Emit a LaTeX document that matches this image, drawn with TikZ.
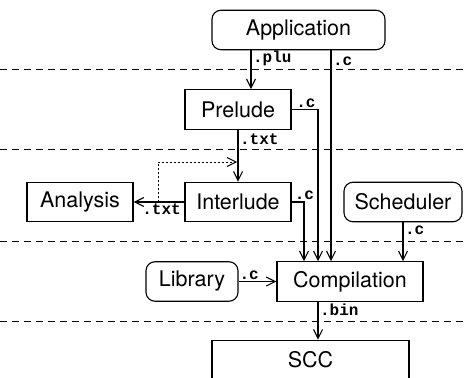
\documentclass[tikz,border=0pt]{standalone}
\usepackage{fontspec}
\setmainfont{TeX Gyre Heros}
\newfontfamily\lblfont{Liberation Mono}
\usetikzlibrary{arrows.meta}

\begin{document}
\begin{tikzpicture}[x=1pt, y=-1pt,
    >={Straight Barb[length=9pt,width=9pt]},
    every path/.style={line width=1.1pt},
    box/.style={draw, inner sep=0pt, minimum height=39.5pt, font=\fontsize{21.5}{24}\selectfont},
    rbox/.style={box, rounded corners=9pt},
    lbl/.style={font=\lblfont\bfseries\fontsize{16}{18}\selectfont, inner sep=1.5pt}]

    \useasboundingbox (0,0) rectangle (465,377);

    \foreach \y in {69,149,241,321}
        \draw [dashed, line width=0.9pt, dash pattern=on 7pt off 5pt] (0,\y) -- (465,\y);

    \node [rbox, minimum width=173pt] (a) at (298.5, 30) {Application};
    \node [box, minimum width=106pt] (b) at (238, 109.5) {Prelude};
    \node [box, minimum width=106pt] (c) at (238, 202) {Interlude};
    \node [box, minimum width=106pt] (d) at (80, 202) {Analysis};
    \node [rbox, minimum width=118pt] (e) at (403, 202) {Scheduler};
    \node [rbox, minimum width=92pt] (f) at (192, 281.5) {Library};
    \node [box, minimum width=146pt] (g) at (350, 281.5) {Compilation};
    \node [box, minimum width=197pt] (h) at (310.5, 360) {SCC};
    \coordinate (i) at (158, 202);
    \coordinate (j) at (237, 162);

    \draw [->] ([xshift=-47.5pt]a.south) to node [lbl, pos=.22, anchor=west] {.plu} ([xshift=13pt]b.north);
    \draw [->] ([xshift=32.5pt]a.south) to node [lbl, pos=.05, anchor=west] {.c} ([xshift=-19pt]g.north);
    \draw [->] (b.east) -| node [lbl, pos=.05, anchor=south west] {.c} ([xshift=-32pt]g.north);
    \draw [->] (b.south) to node [lbl, pos=.18, anchor=west] {.txt} (c.north);
    \draw [->] (c.east) -| node [lbl, pos=.05, anchor=south west] {.c} ([xshift=-46pt]g.north);
    \draw [->] (c.west) to node [lbl, pos=.45, anchor=north] {.txt} (d.east);
    \draw [->, line width=0.9pt, dash pattern=on 2pt off 2pt] (i) |- (j);
    \draw [->] (e.south) to node [lbl, pos=.2, anchor=west] {.c} (e.south |- g.north);
    \draw [->] (f.east) to node [lbl, pos=.28, anchor=south] {.c} (g.west);
    \draw [->] ([xshift=-32pt]g.south) to node [lbl, pos=.22, anchor=west] {.bin} ([xshift=7.5pt]h.north);

\end{tikzpicture}
\end{document}
